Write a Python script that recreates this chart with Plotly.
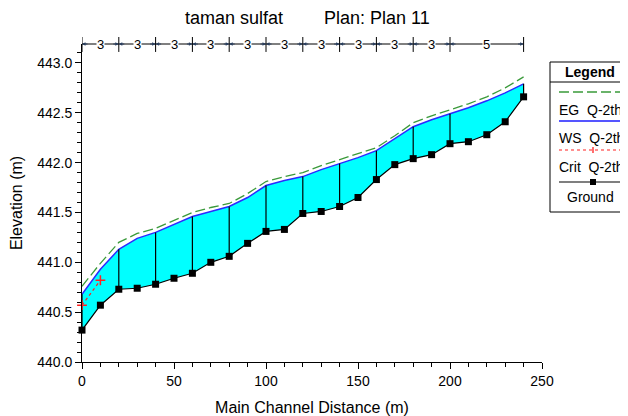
import plotly.graph_objects as go

# ---- data ----
dist = [0, 10, 20, 30, 40, 50, 60, 70, 80, 90, 100, 110, 120, 130, 140, 150, 160, 170, 180, 190, 200, 210, 220, 230, 240]
ground = [440.32, 440.57, 440.73, 440.74, 440.78, 440.84, 440.89, 441.00, 441.06, 441.19, 441.31, 441.33, 441.49, 441.51,
          441.56, 441.65, 441.83, 441.98, 442.04, 442.08, 442.19, 442.21, 442.28, 442.41, 442.66]
ws = [440.68, 440.93, 441.13, 441.24, 441.30, 441.38, 441.46, 441.51, 441.56, 441.65, 441.77, 441.82, 441.86, 441.93,
      441.99, 442.05, 442.12, 442.24, 442.36, 442.43, 442.49, 442.55, 442.62, 442.70, 442.79]
eg = [440.76, 440.99, 441.20, 441.29, 441.34, 441.42, 441.50, 441.55, 441.59, 441.69, 441.81, 441.86, 441.90, 441.97,
      442.03, 442.09, 442.15, 442.27, 442.40, 442.47, 442.53, 442.59, 442.66, 442.75, 442.86]
crit_x = [0, 10]
crit_y = [440.57, 440.82]
xs_stations = [0, 20, 40, 60, 80, 100, 120, 140, 160, 180, 200, 240]
interval_labels = ["3", "3", "3", "3", "3", "3", "3", "3", "3", "3", "5"]

title_left = "taman sulfat"
title_right = "Plan: Plan 11"

FONT = "Liberation Sans, Arial, sans-serif"

fig = go.Figure()
# fill between ground and WS
fig.add_trace(go.Scatter(x=dist, y=ground, mode="lines", line=dict(width=0, color="black"),
                         showlegend=False, hoverinfo="skip"))
fig.add_trace(go.Scatter(x=dist, y=ws, mode="lines", fill="tonexty", fillcolor="#00FFFF",
                         line=dict(color="#2b2bff", width=1.5), showlegend=False))
# vertical section lines
vx, vy = [], []
for s in xs_stations:
    i = dist.index(s)
    vx += [s, s, None]
    vy += [ground[i], ws[i], None]
fig.add_trace(go.Scatter(x=vx, y=vy, mode="lines", line=dict(color="black", width=1.2),
                         showlegend=False, hoverinfo="skip"))
# EG
fig.add_trace(go.Scatter(x=dist, y=eg, mode="lines", line=dict(color="#3a9a3a", width=1.3, dash="10px,4px"),
                         showlegend=False))
# crit
fig.add_trace(go.Scatter(x=crit_x, y=crit_y, mode="lines+markers", cliponaxis=False,
                         line=dict(color="#ff2020", width=1.2, dash="3px,3px"),
                         marker=dict(symbol="cross-thin", size=7, line=dict(color="#ff2020", width=1.5)),
                         showlegend=False))
# ground
fig.add_trace(go.Scatter(x=dist, y=ground, mode="lines+markers", line=dict(color="black", width=1.2),
                         cliponaxis=False,
                         marker=dict(symbol="square", size=7, color="black"), showlegend=False))

shapes = []
annotations = []

# top station bar
top_y = 1.0
shapes.append(dict(type="line", xref="x", yref="paper", x0=xs_stations[0], x1=xs_stations[-1], y0=top_y, y1=top_y,
                   line=dict(color="black", width=1)))
for s in xs_stations:
    shapes.append(dict(type="line", xref="x", yref="paper", x0=s, x1=s, y0=0.975, y1=1.022,
                       line=dict(color="black", width=1)))
for i, lab in enumerate(interval_labels):
    a, b = xs_stations[i], xs_stations[i + 1]
    annotations.append(dict(x=(a + b) / 2, y=top_y, xref="x", yref="paper", text=lab, showarrow=False,
                            yanchor="middle", xanchor="center",
                            font=dict(family=FONT, size=13, color="black"), bgcolor="white", borderpad=0))
    annotations.append(dict(x=b, y=top_y, xref="x", yref="paper", text="", showarrow=True, arrowhead=2,
                            arrowsize=0.7, arrowwidth=1, ax=-7, ay=0, axref="pixel", ayref="pixel"))
    annotations.append(dict(x=a, y=top_y, xref="x", yref="paper", text="", showarrow=True, arrowhead=2,
                            arrowsize=0.7, arrowwidth=1, ax=7, ay=0, axref="pixel", ayref="pixel"))

# helpers: screen pixel -> paper coords of plot area (plot area spans x 82..542, y 44..362 on screen)
def px(x):
    return (x - 82) / 460

def py(y):
    return (362 - y) / 318

annotations.append(dict(x=px(183), y=py(18), xref="paper", yref="paper", text=title_left, xanchor="left",
                        showarrow=False, yanchor="middle", font=dict(family=FONT, size=18, color="black")))
annotations.append(dict(x=px(322), y=py(18), xref="paper", yref="paper", text=title_right, xanchor="left",
                        showarrow=False, yanchor="middle", font=dict(family=FONT, size=18, color="black")))

# custom legend
shapes.append(dict(type="rect", xref="paper", yref="paper", x0=px(550), x1=px(650), y0=py(212), y1=py(62),
                   line=dict(color="black", width=1), fillcolor="white"))
shapes.append(dict(type="line", xref="paper", yref="paper", x0=px(550), x1=px(650), y0=py(82), y1=py(82),
                   line=dict(color="black", width=1)))
annotations.append(dict(x=px(590), y=py(72), xref="paper", yref="paper", text="<b>Legend</b>", showarrow=False,
                        xanchor="center", yanchor="middle", font=dict(family=FONT, size=14, color="black")))
shapes.append(dict(type="line", xref="paper", yref="paper", x0=px(559), x1=px(640), y0=py(92), y1=py(92),
                   line=dict(color="#3a9a3a", width=1.3, dash="10px,4px")))
shapes.append(dict(type="line", xref="paper", yref="paper", x0=px(559), x1=px(640), y0=py(121), y1=py(121),
                   line=dict(color="#5555ff", width=2)))
shapes.append(dict(type="line", xref="paper", yref="paper", x0=px(559), x1=px(640), y0=py(150), y1=py(150),
                   line=dict(color="#ff2020", width=1.2, dash="3px,3px")))
shapes.append(dict(type="line", xref="paper", yref="paper", x0=px(559), x1=px(640), y0=py(182), y1=py(182),
                   line=dict(color="black", width=1.2)))
shapes.append(dict(type="rect", xref="paper", yref="paper", x0=px(590), x1=px(596), y0=py(185), y1=py(179),
                   line=dict(color="black", width=0), fillcolor="black"))
shapes.append(dict(type="line", xref="paper", yref="paper", x0=px(593), x1=px(593), y0=py(153), y1=py(147),
                   line=dict(color="#ff2020", width=1.3)))
for txt, yy in [("EG  Q-2th", 110), ("WS  Q-2th", 138), ("Crit  Q-2th", 167)]:
    annotations.append(dict(x=px(557), y=py(yy), xref="paper", yref="paper", text=txt, showarrow=False,
                            xanchor="left", yanchor="middle", font=dict(family=FONT, size=14, color="black")))
annotations.append(dict(x=px(590), y=py(197), xref="paper", yref="paper", text="Ground", showarrow=False,
                        xanchor="center", yanchor="middle", font=dict(family=FONT, size=14, color="black")))

# page body has an 8px margin, so figure is 620x408 with margins shifted by 8px
fig.update_layout(
    width=620, height=408,
    margin=dict(l=74, r=86, t=36, b=54, autoexpand=False),
    paper_bgcolor="white", plot_bgcolor="white",
    shapes=shapes, annotations=annotations,
    showlegend=False,
    font=dict(family=FONT, size=14, color="black"),
    xaxis=dict(range=[0, 250], tickvals=[0, 50, 100, 150, 200, 250], showgrid=False, zeroline=False,
               automargin=False,
               showline=True, linecolor="black", linewidth=1, ticks="outside", ticklen=6, tickcolor="black",
               minor=dict(dtick=10, tick0=0, ticks="outside", ticklen=4, tickcolor="black", showgrid=False),
               title=dict(text="Main Channel Distance (m)", standoff=14, font=dict(size=16)),
               tickfont=dict(size=14)),
    yaxis=dict(range=[440, 443.19], tickvals=[440, 440.5, 441, 441.5, 442, 442.5, 443], tickformat=".1f",
               automargin=False,
               showgrid=False, zeroline=False, showline=True, linecolor="black", linewidth=1,
               ticks="outside", ticklen=6, tickcolor="black",
               minor=dict(dtick=0.1, tick0=440, ticks="outside", ticklen=4, tickcolor="black", showgrid=False),
               title=dict(text="Elevation (m)", standoff=12, font=dict(size=16)),
               tickfont=dict(size=14)),
)

fig.write_html("out.html")
